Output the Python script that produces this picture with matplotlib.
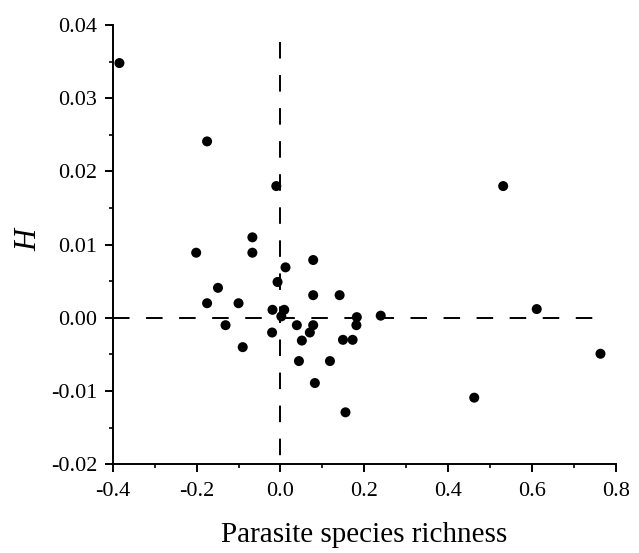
import matplotlib
matplotlib.use("Agg")
import matplotlib.pyplot as plt
from matplotlib.ticker import MultipleLocator, FormatStrFormatter

# Data
richness = [-0.384, -0.175, -0.010, 0.531,
            -0.067, -0.201, -0.067, 0.078, 0.012, -0.007, -0.149,
            0.078, 0.141, -0.175, -0.100, -0.019, 0.009, 0.002,
            0.239, 0.611, 0.182, -0.131, 0.039, 0.078, 0.181,
            -0.020, 0.070, 0.051, 0.149, 0.172, -0.090, 0.044,
            0.118, 0.082, 0.155, 0.462, 0.763]
H = [0.0348, 0.0241, 0.0180, 0.0180,
     0.0110, 0.0089, 0.0089, 0.0079, 0.0069, 0.0049, 0.0041,
     0.0031, 0.0031, 0.0020, 0.0020, 0.0011, 0.0011, 0.0002,
     0.0003, 0.0012, 0.0001, -0.0010, -0.0010, -0.0010, -0.0010,
     -0.0020, -0.0020, -0.0031, -0.0030, -0.0030, -0.0040, -0.0059,
     -0.0059, -0.0089, -0.0129, -0.0109, -0.0049]

xticks = [-0.4, -0.2, 0.0, 0.2, 0.4, 0.6, 0.8]
yticks = [-0.02, -0.01, 0.00, 0.01, 0.02, 0.03, 0.04]
hline_x = [-0.4, 0.768]
vline_y = [0.0377, -0.02]

plt.rcParams['font.family'] = ['Liberation Serif', 'DejaVu Serif']

fig = plt.figure(figsize=(6.39, 5.53), dpi=100)
ax = fig.add_axes([0.1764, 0.1604, 0.7876, 0.7944])

ax.plot(hline_x, [0, 0], color='black', lw=1.4, dashes=(8.5, 8.5), zorder=1)
ax.plot([0, 0], vline_y, color='black', lw=1.4, dashes=(8.5, 8.5), zorder=1)
ax.scatter(richness, H, s=52, color='black', edgecolors='none', zorder=3, clip_on=False)

ax.set_xlim(-0.4, 0.8)
ax.set_ylim(-0.02, 0.04)
ax.set_xticks(xticks)
ax.set_yticks(yticks)
ax.xaxis.set_minor_locator(MultipleLocator(0.1))
ax.yaxis.set_minor_locator(MultipleLocator(0.005))
ax.xaxis.set_major_formatter(FormatStrFormatter('%.1f'))
ax.yaxis.set_major_formatter(FormatStrFormatter('%.2f'))

for s in ['top', 'right']:
    ax.spines[s].set_visible(False)
for s in ['left', 'bottom']:
    ax.spines[s].set_linewidth(1.4)

ax.tick_params(which='major', direction='out', length=5.5, width=1.4,
               labelsize=16, pad=5.5)
ax.tick_params(axis='x', which='major', pad=7.5)
ax.tick_params(which='minor', direction='out', length=2.7, width=1.2)

ax.set_xlabel('Parasite species richness', fontsize=21)
ax.xaxis.set_label_coords(0.499, -0.131)
ax.set_ylabel('H', fontsize=22, style='italic')
ax.yaxis.set_label_coords(-0.1385, 0.51)

fig.savefig('out.png', dpi=100)
